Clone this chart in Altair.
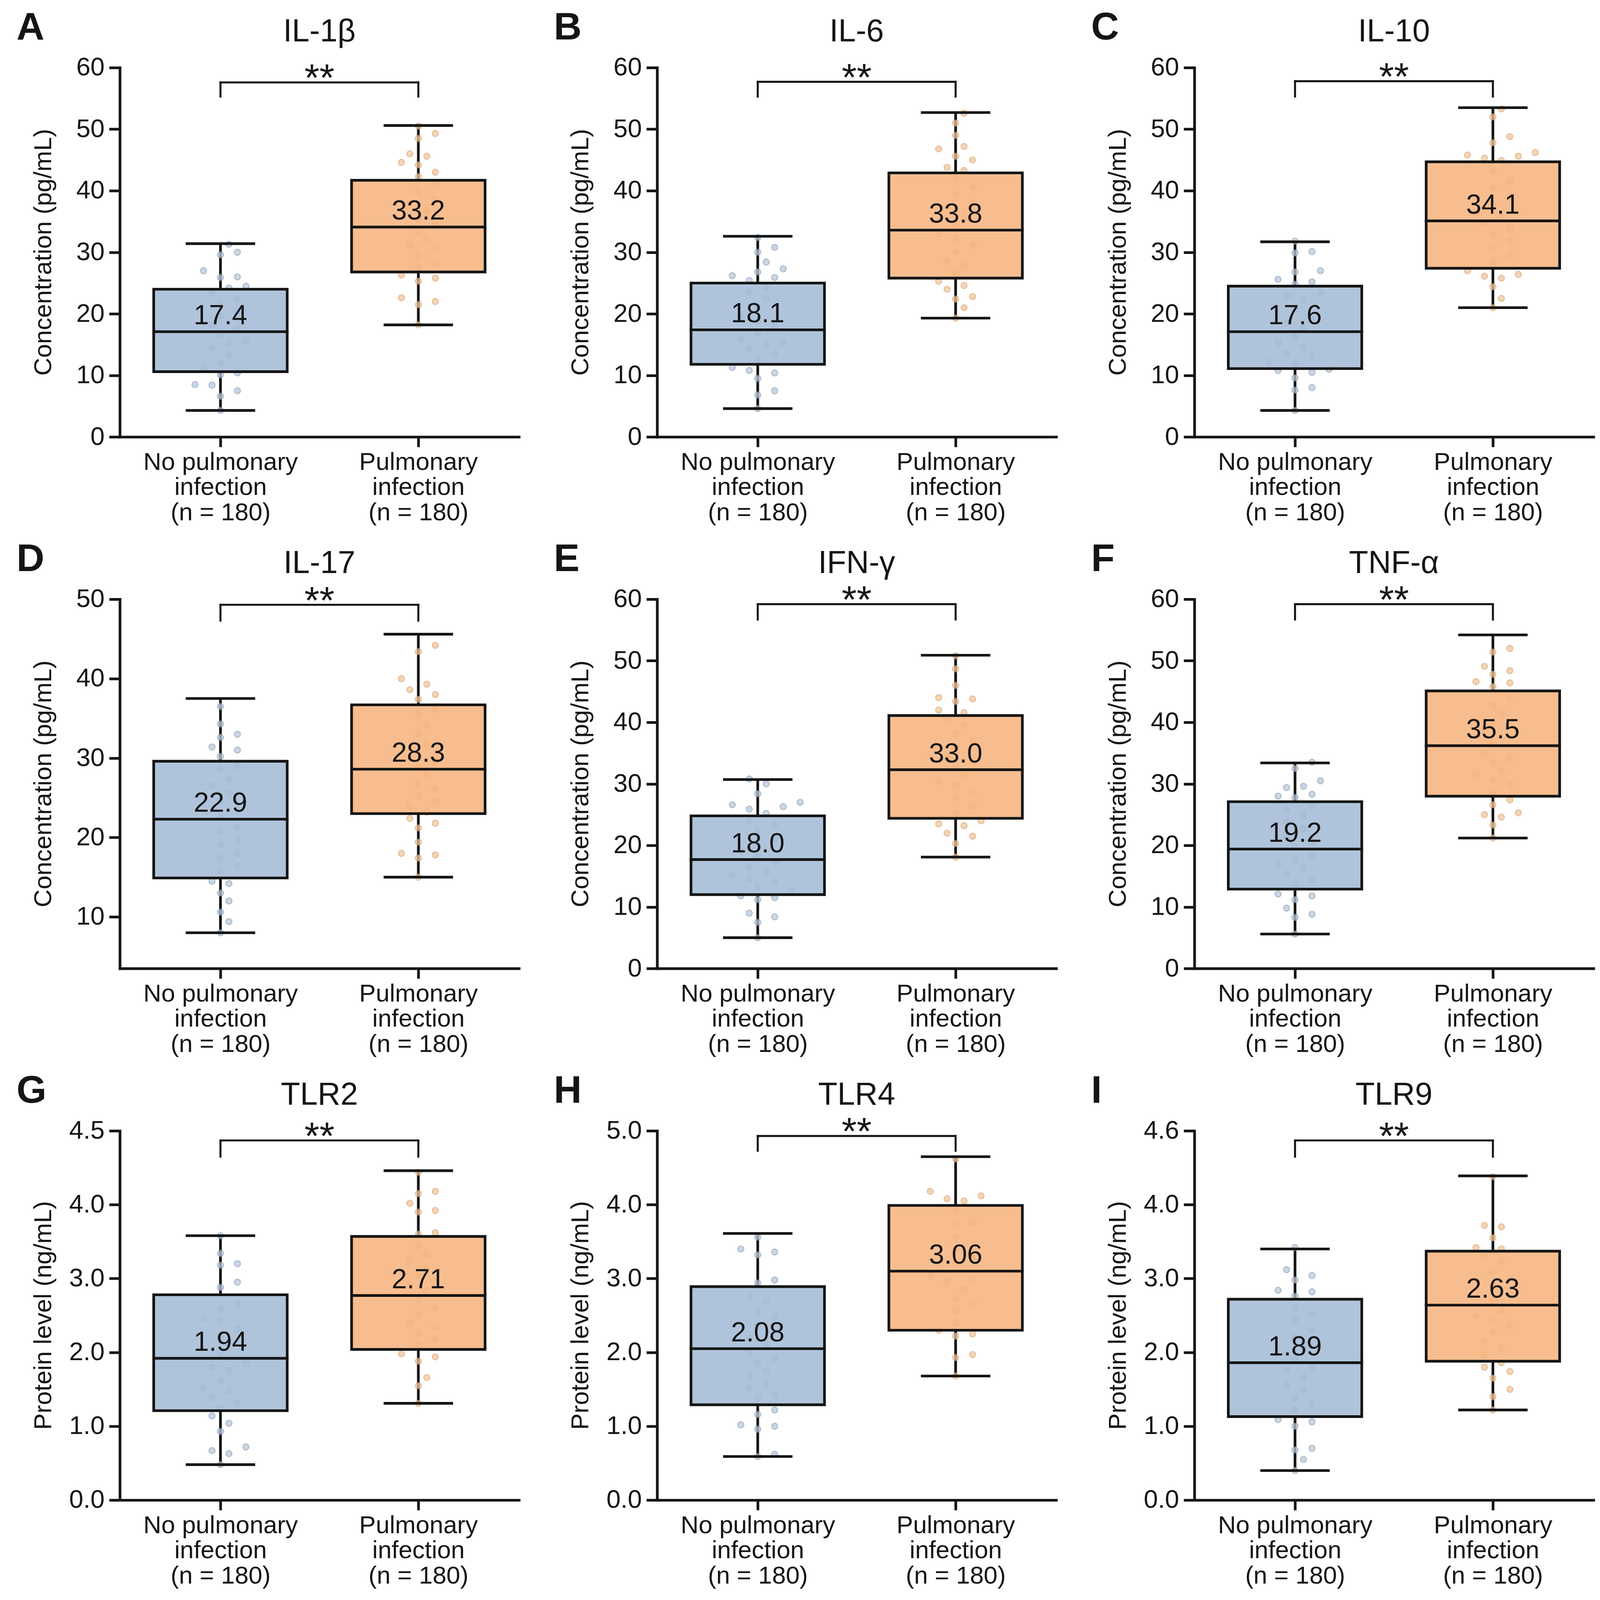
import json
import altair as alt
import pandas as pd

# ---------------- data ----------------
letters = ["A", "B", "C", "D", "E", "F", "G", "H", "I"]
titles = ["IL-1β", "IL-6", "IL-10", "IL-17", "IFN-γ", "TNF-α", "TLR2", "TLR4", "TLR9"]
y_titles = ["Concentration (pg/mL)"] * 6 + ["Protein level (ng/mL)"] * 3
y_domains = [[0, 60], [0, 60], [0, 60], [3.5, 50], [0, 60], [0, 60], [0, 5], [0, 5], [0, 5]]
tick_60 = [0, 10, 20, 30, 40, 50, 60]
y_tick_values = [tick_60, tick_60, tick_60, [10, 20, 30, 40, 50], tick_60, tick_60,
                 [0, 1, 2, 3, 4, 5], [0, 1, 2, 3, 4, 5], [0, 1, 2, 3, 4, 5]]
lab_60 = ["0", "10", "20", "30", "40", "50", "60"]
y_tick_labels = [lab_60, lab_60, lab_60, ["10", "20", "30", "40", "50"], lab_60, lab_60,
                 ["0.0", "1.0", "2.0", "3.0", "4.0", "4.5"],
                 ["0.0", "1.0", "2.0", "3.0", "4.0", "5.0"],
                 ["0.0", "1.0", "2.0", "3.0", "4.0", "4.6"]]

groups = ["No pulmonary infection", "Pulmonary infection"]
group_label_lines = [["No pulmonary", "infection", "(n = 180)"],
                     ["Pulmonary", "infection", "(n = 180)"]]

# [min, Q1, median, Q3, max]
box_no = [
    [4.3, 10.6, 17.1, 24.0, 31.4],
    [4.6, 11.8, 17.4, 25.0, 32.6],
    [4.3, 11.1, 17.1, 24.5, 31.7],
    [8.0, 14.9, 22.3, 29.6, 37.5],
    [5.0, 12.0, 17.7, 24.8, 30.7],
    [5.6, 12.9, 19.4, 27.1, 33.4],
    [0.48, 1.21, 1.92, 2.78, 3.58],
    [0.59, 1.29, 2.05, 2.89, 3.61],
    [0.40, 1.13, 1.86, 2.72, 3.40],
]
box_yes = [
    [18.2, 26.8, 34.1, 41.7, 50.6],
    [19.3, 25.8, 33.6, 42.9, 52.7],
    [21.0, 27.4, 35.1, 44.7, 53.5],
    [15.0, 23.0, 28.6, 36.7, 45.6],
    [18.1, 24.4, 32.3, 41.1, 50.9],
    [21.2, 28.0, 36.2, 45.1, 54.2],
    [1.31, 2.04, 2.77, 3.57, 4.46],
    [1.68, 2.30, 3.10, 3.99, 4.65],
    [1.22, 1.88, 2.64, 3.37, 4.39],
]
mean_no = ["17.4", "18.1", "17.6", "22.9", "18.0", "19.2", "1.94", "2.08", "1.89"]
mean_yes = ["33.2", "33.8", "34.1", "28.3", "33.0", "35.5", "2.71", "3.06", "2.63"]

bracket_y = [57.6, 57.7, 57.8, 49.3, 59.2, 59.2, 4.87, 4.93, 4.87]
bracket_leg = [55.3, 55.3, 55.3, 47.3, 56.7, 56.7, 4.65, 4.73, 4.65]
sig_text = ["**"] * 9

points_no = [
    [4.3, 6.6, 7.5, 8.5, 8.4, 10.4, 10.1, 11.2, 12.0, 13.4, 14.5, 15.3, 15.6, 16.6, 17.5,
     18.2, 19.6, 20.3, 21.8, 22.5, 23.4, 24.2, 24.5, 25.9, 26.0, 27.0, 29.6, 30.0, 31.3],
    [4.6, 6.8, 7.5, 9.5, 10.4, 10.8, 11.3, 12.5, 13.4, 14.2, 14.9, 15.3, 16.0, 16.8, 17.9,
     18.8, 19.7, 21.0, 22.4, 23.5, 24.3, 25.4, 25.9, 26.2, 26.8, 27.3, 28.4, 30.0, 30.8, 32.4],
    [4.3, 7.6, 8.0, 9.6, 10.5, 10.8, 11.0, 11.9, 12.2, 13.0, 13.6, 14.6, 15.3, 16.2, 17.6,
     18.5, 19.4, 20.8, 22.3, 22.9, 23.4, 24.8, 25.2, 25.6, 26.8, 27.0, 29.9, 30.1, 31.8],
    [8.0, 9.4, 10.6, 12.0, 13.0, 14.2, 14.5, 15.8, 16.4, 17.4, 18.0, 19.1, 19.7, 20.8, 21.3,
     22.6, 23.5, 24.6, 25.6, 26.5, 27.3, 28.6, 29.0, 30.2, 31.0, 31.4, 32.6, 33.0, 34.3, 36.5],
    [5.0, 7.5, 8.4, 9.0, 11.2, 11.5, 11.8, 12.6, 13.3, 14.0, 14.6, 15.2, 15.8, 16.6, 17.3,
     18.2, 19.0, 20.1, 21.0, 22.4, 23.3, 24.0, 25.2, 25.9, 26.3, 26.6, 27.0, 28.4, 30.0, 30.8],
    [5.6, 8.3, 8.8, 9.8, 11.2, 11.8, 12.1, 13.6, 14.4, 15.3, 16.2, 17.0, 17.6, 18.4, 19.8,
     20.6, 21.5, 22.7, 23.8, 24.9, 25.8, 26.4, 27.8, 28.0, 28.3, 29.4, 29.6, 30.5, 32.5, 33.5],
    [0.48, 0.63, 0.67, 0.72, 0.93, 1.04, 1.14, 1.25, 1.32, 1.39, 1.47, 1.52, 1.62, 1.76, 1.80,
     1.86, 2.00, 2.12, 2.23, 2.32, 2.42, 2.46, 2.58, 2.66, 2.88, 2.95, 3.18, 3.20, 3.34, 3.58],
    [0.59, 0.62, 0.96, 1.00, 1.02, 1.16, 1.22, 1.38, 1.42, 1.52, 1.58, 1.68, 1.75, 1.86, 1.92,
     2.00, 2.10, 2.20, 2.38, 2.48, 2.55, 2.70, 2.76, 2.94, 2.98, 3.32, 3.36, 3.40, 3.56],
    [0.40, 0.55, 0.68, 0.70, 1.00, 1.06, 1.09, 1.22, 1.30, 1.38, 1.50, 1.56, 1.66, 1.76, 1.79,
     1.92, 2.06, 2.20, 2.30, 2.44, 2.52, 2.60, 2.76, 2.82, 2.84, 2.98, 3.04, 3.12, 3.42],
]
points_yes = [
    [18.2, 21.5, 22.0, 22.6, 25.3, 25.8, 26.3, 27.5, 28.2, 29.4, 30.6, 31.2, 32.0, 33.5, 34.6,
     35.4, 36.8, 37.9, 38.6, 39.8, 41.0, 42.3, 43.0, 44.2, 44.6, 45.6, 46.0, 48.5, 49.3, 50.5],
    [19.3, 21.0, 22.4, 22.8, 24.0, 24.6, 25.3, 26.5, 27.8, 28.6, 30.0, 31.2, 32.3, 33.0, 34.2,
     35.5, 36.9, 38.0, 39.4, 40.6, 42.0, 43.3, 43.8, 45.0, 45.6, 46.8, 47.2, 49.0, 51.0, 52.6],
    [21.0, 22.5, 24.4, 25.8, 26.1, 26.4, 27.0, 28.4, 29.6, 30.8, 31.8, 32.9, 33.8, 34.6, 35.6,
     36.4, 37.8, 39.0, 40.4, 41.6, 43.2, 44.9, 45.3, 45.6, 45.8, 46.2, 47.8, 48.8, 52.0, 53.3],
    [15.0, 17.4, 17.8, 18.0, 19.4, 21.2, 21.8, 22.4, 23.2, 23.9, 24.6, 25.3, 26.1, 26.8, 27.9,
     28.9, 29.6, 30.5, 31.8, 33.0, 34.2, 35.6, 36.2, 37.4, 38.0, 38.6, 39.3, 40.0, 43.4, 44.2],
    [18.1, 20.3, 21.5, 22.0, 23.2, 23.5, 24.0, 25.2, 26.4, 27.8, 28.6, 29.8, 30.4, 31.5, 32.8,
     33.6, 34.5, 35.8, 37.0, 38.2, 39.6, 40.6, 41.6, 42.0, 43.4, 43.8, 44.0, 46.0, 48.7, 50.8],
    [21.2, 23.3, 24.6, 25.0, 25.3, 26.6, 27.4, 28.6, 29.8, 30.6, 31.4, 32.2, 33.5, 34.2, 35.0,
     36.8, 37.7, 38.6, 40.0, 41.4, 42.8, 44.0, 45.8, 46.4, 46.6, 47.8, 48.4, 49.1, 51.4, 52.0],
    [1.31, 1.55, 1.66, 1.88, 1.94, 1.98, 2.10, 2.18, 2.26, 2.34, 2.40, 2.52, 2.60, 2.70, 2.84,
     2.92, 3.04, 3.16, 3.24, 3.32, 3.44, 3.60, 3.62, 3.90, 3.92, 4.02, 4.15, 4.18, 4.44],
    [1.68, 1.93, 1.97, 2.22, 2.25, 2.30, 2.40, 2.56, 2.66, 2.72, 2.86, 2.96, 3.00, 3.04, 3.20,
     3.28, 3.40, 3.56, 3.74, 3.76, 3.92, 4.05, 4.08, 4.12, 4.18, 4.62],
    [1.22, 1.40, 1.50, 1.65, 1.74, 1.80, 1.86, 1.96, 2.06, 2.16, 2.28, 2.36, 2.44, 2.50, 2.56,
     2.70, 2.80, 2.90, 3.00, 3.10, 3.24, 3.30, 3.40, 3.42, 3.55, 3.70, 3.72, 4.38],
]

# ---------------- styling ----------------
W, H = 1190, 1101
FONT = "Liberation Sans"
INK = "#151515"
BOX_FILL = ["#a4bcd6", "#f6b47e"]
PT_FILL = ["#bccadb", "#f0c79e"]
PT_STROKE = ["#8fa3ba", "#dca878"]
BOX_W = 398
CAP_W = 207
LW = 8


def swarm_offsets(vals, dmin, dmax, diam=34.0):
    """Greedy beeswarm: pixel offsets so that dots do not overlap."""
    ppu = H / (dmax - dmin)
    step = diam * 0.75
    order = sorted(range(len(vals)), key=lambda i: vals[i])
    placed, offs = [], [0.0] * len(vals)
    for i in order:
        py = vals[i] * ppu
        c = 0.0
        for j in range(60):
            c = ((j + 1) // 2) * step * (1 if j % 2 else -1)
            if all((c - qx) ** 2 + (py - qy) ** 2 >= diam * diam for qx, qy in placed):
                break
        placed.append((c, py))
        offs[i] = c
    return offs


def ternary(values, labels):
    expr = json.dumps(labels[-1])
    for v, lab in reversed(list(zip(values[:-1], labels[:-1]))):
        expr = f"datum.value == {v} ? {json.dumps(lab)} : ({expr})"
    return expr


def make_panel(k):
    dmin, dmax = y_domains[k]
    ys = alt.Scale(domain=[dmin, dmax], nice=False, zero=False)
    xs = alt.Scale(domain=[0, 2], nice=False, zero=False)
    col = alt.Scale(domain=groups, range=BOX_FILL)

    x_label_expr = (f"datum.value < 1 ? {json.dumps(group_label_lines[0])} : "
                    f"{json.dumps(group_label_lines[1])}")
    x_axis = alt.Axis(values=[0.5, 1.5], labelExpr=x_label_expr, title=None, tickSize=30,
                      labelPadding=10, labelLineHeight=75, labelAngle=0, labelFlush=False,
                      labelOverlap=False, labelFontSize=74, labelLimit=0)
    y_axis = alt.Axis(values=y_tick_values[k], labelExpr=ternary(y_tick_values[k], y_tick_labels[k]),
                      title=None, tickSize=32, labelPadding=14, labelFlush=False,
                      labelOverlap=False, labelFontSize=76, labelLimit=0)

    stats = pd.DataFrame({
        "grp": groups,
        "gi": [0, 1],
        "low": [box_no[k][0], box_yes[k][0]],
        "q1": [box_no[k][1], box_yes[k][1]],
        "med": [box_no[k][2], box_yes[k][2]],
        "q3": [box_no[k][3], box_yes[k][3]],
        "high": [box_no[k][4], box_yes[k][4]],
        "mean": [mean_no[k], mean_yes[k]],
    })
    stats["xc"] = stats["gi"] + 0.5

    rows = []
    for gi, vals in enumerate([points_no[k], points_yes[k]]):
        offs = swarm_offsets(vals, dmin, dmax)
        for v, o in zip(vals, offs):
            rows.append({"grp": groups[gi], "gi": gi, "value": v, "xp": gi + 0.5 + o * 2.0 / W})
    pts = pd.DataFrame(rows)

    X = lambda f: alt.X(f, type="quantitative", scale=xs, axis=x_axis)
    Y = lambda f: alt.Y(f, type="quantitative", scale=ys, axis=y_axis)

    base = alt.Chart(stats)
    whisk_lo = base.mark_rule(color=INK, strokeWidth=LW).encode(x=X("xc"), y=Y("low"), y2="q1")
    whisk_hi = base.mark_rule(color=INK, strokeWidth=LW).encode(x=X("xc"), y=Y("q3"), y2="high")
    dots = alt.Chart(pts).mark_point(filled=True, size=320, strokeWidth=3, opacity=0.75).encode(
        x=X("xp"), y=Y("value"),
        fill=alt.Fill("grp:N", scale=alt.Scale(domain=groups, range=PT_FILL), legend=None),
        stroke=alt.Stroke("grp:N", scale=alt.Scale(domain=groups, range=PT_STROKE), legend=None))
    box_fill = base.mark_bar(size=BOX_W, strokeWidth=0, opacity=0.88).encode(
        x=X("xc"), y=Y("q1"), y2="q3",
        color=alt.Color("grp:N", scale=col, legend=None))
    box_line = base.mark_bar(size=BOX_W, fill=None, filled=False, stroke=INK, strokeWidth=LW).encode(
        x=X("xc"), y=Y("q1"), y2="q3")
    median = base.mark_tick(orient="horizontal", size=BOX_W + LW, thickness=LW, color=INK, opacity=1).encode(
        x=X("xc"), y=Y("med"))
    cap_lo = base.mark_tick(orient="horizontal", size=CAP_W, thickness=LW, color=INK, opacity=1).encode(
        x=X("xc"), y=Y("low"))
    cap_hi = base.mark_tick(orient="horizontal", size=CAP_W, thickness=LW, color=INK, opacity=1).encode(
        x=X("xc"), y=Y("high"))
    means = base.mark_text(font=FONT, fontSize=82, baseline="alphabetic", dy=-22, color=INK).encode(
        x=X("xc"), y=Y("med"), text="mean:N")

    br = pd.DataFrame({"xa": [0.5], "xb": [1.5], "xm": [1.0], "yb": [bracket_y[k]],
                       "yl": [bracket_leg[k]], "sig": [sig_text[k]]})
    legs = pd.DataFrame({"xa": [0.5, 1.5], "yb": [bracket_y[k]] * 2, "yl": [bracket_leg[k]] * 2})
    br_h = alt.Chart(br).mark_rule(color=INK, strokeWidth=6, strokeCap="square").encode(
        x=X("xa"), x2="xb", y=Y("yb"))
    br_v = alt.Chart(legs).mark_rule(color=INK, strokeWidth=6, strokeCap="square").encode(
        x=X("xa"), y=Y("yb"), y2="yl")
    stars = alt.Chart(br).mark_text(font=FONT, fontSize=115, baseline="alphabetic",
                                    dy=26, color=INK).encode(x=X("xm"), y=Y("yb"), text="sig:N")

    lab = pd.DataFrame({"letter": [letters[k]], "title": [titles[k]], "ytitle": [y_titles[k]]})
    letter = alt.Chart(lab).mark_text(font=FONT, fontSize=115, fontWeight="bold", align="left",
                                      baseline="alphabetic", color=INK).encode(
        x=alt.value(-308), y=alt.value(-84), text="letter:N")
    title = alt.Chart(lab).mark_text(font=FONT, fontSize=94, align="center",
                                     baseline="alphabetic", color=INK).encode(
        x=alt.value(W / 2), y=alt.value(-78), text="title:N")
    ytitle = alt.Chart(lab).mark_text(font=FONT, fontSize=74, align="center", angle=270,
                                      baseline="alphabetic", color=INK).encode(
        x=alt.value(-205), y=alt.value(H / 2), text="ytitle:N")

    return alt.layer(whisk_lo, whisk_hi, dots, box_fill, box_line, median, cap_lo, cap_hi,
                     means, br_h, br_v, stars, letter, title, ytitle).properties(width=W, height=H)


rows = [alt.hconcat(*[make_panel(3 * r + c) for c in range(3)], spacing=104) for r in range(3)]
chart = alt.vconcat(*rows, spacing=45).properties(
    padding={"top": -344, "left": 40, "right": 10, "bottom": 10}
).configure_axis(
    domainColor=INK, domainWidth=8, tickColor=INK, tickWidth=8, labelColor=INK,
    labelFont=FONT, titleFont=FONT, titleFontWeight="normal", titleColor=INK, grid=False,
    domainCap="square"
).configure_view(stroke=None)

chart.save("out.html", embed_options={"renderer": "svg", "actions": False})
